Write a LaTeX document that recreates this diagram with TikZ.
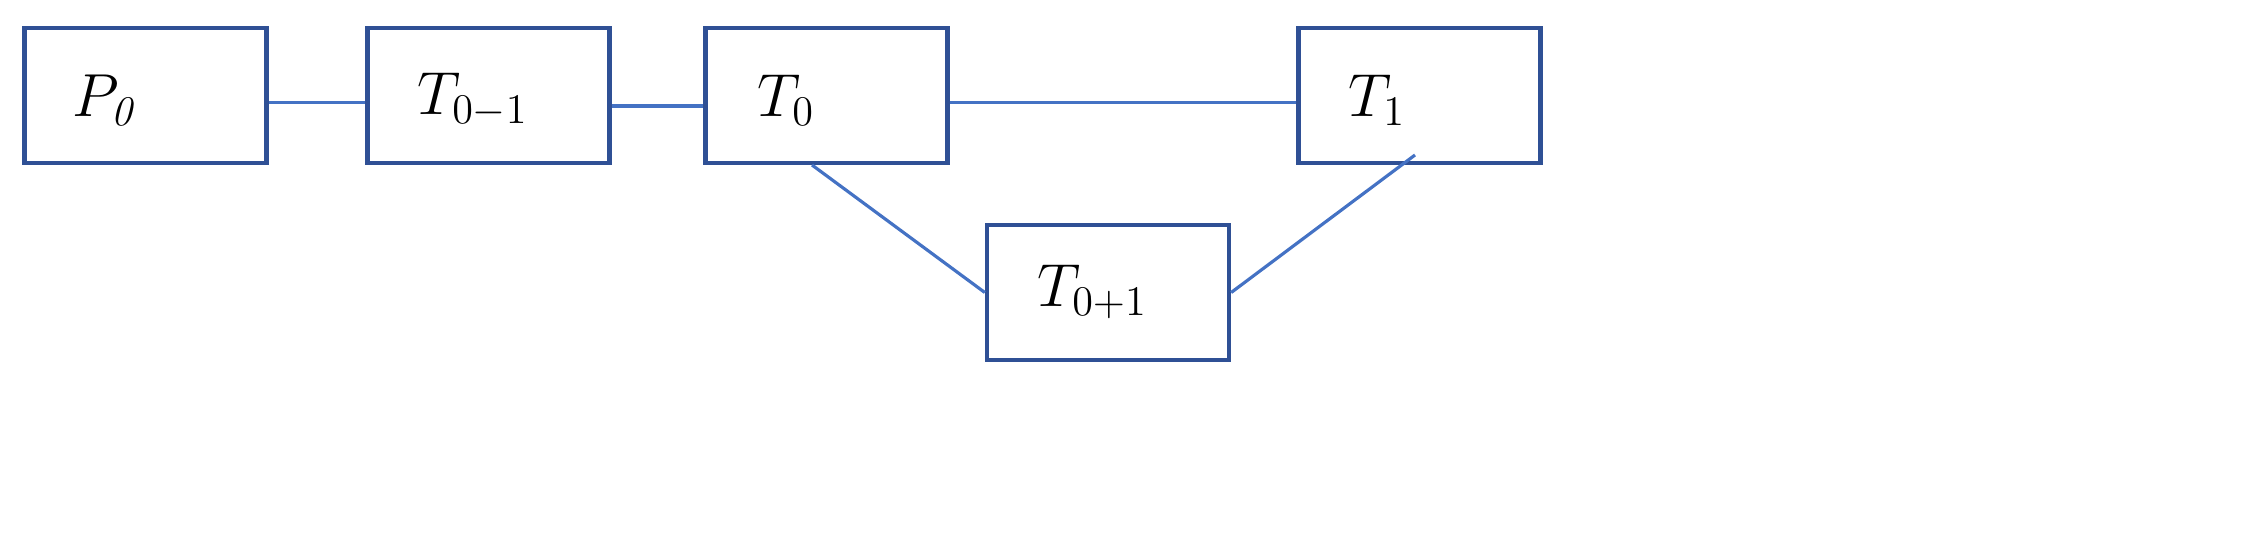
\documentclass[tikz,border=0pt]{standalone}
\definecolor{boxc}{HTML}{2F5095}
\definecolor{linec}{HTML}{4472C4}
\begin{document}
\begin{tikzpicture}[x=0.01cm,y=-0.01cm,
  bx/.style={draw=boxc,line width=1.2pt,minimum width=2.42cm,minimum height=1.35cm,inner sep=0},
  lbl/.style={anchor=west,font=\fontsize{17}{20}\selectfont},
  cn/.style={draw=linec,line width=0.9pt}]
\useasboundingbox (0,0) rectangle (2256,542);
\node[bx] (p0) at (145.5,95.5) {};
\node[bx] (tm) at (488.5,95.5) {};
\node[bx] (t0) at (826.5,95.5) {};
\node[bx] (t1) at (1419.5,95.5) {};
\node[bx] (tp) at (1108,292.5) {};
\node[lbl] at (60,100) {$P_{\mathit{0}}$};
\node[lbl] at (405,100) {$T_{0-1}$};
\node[lbl] at (745,100) {$T_{0}$};
\node[lbl] at (1336,100) {$T_{1}$};
\node[lbl] at (1025,292) {$T_{0+1}$};
\coordinate (a) at (1415,155);
\draw[cn] ([yshift=-2]p0.east) -- ([yshift=-2]tm.west);
\draw[cn] ([yshift=-3]tm.east) -- ([yshift=-3]t0.west);
\draw[cn] ([yshift=-2]t0.east) -- ([yshift=-2]t1.west);
\draw[cn] (812,165) -- (tp.west);
\draw[cn] (tp.east) -- (a);
\end{tikzpicture}
\end{document}
